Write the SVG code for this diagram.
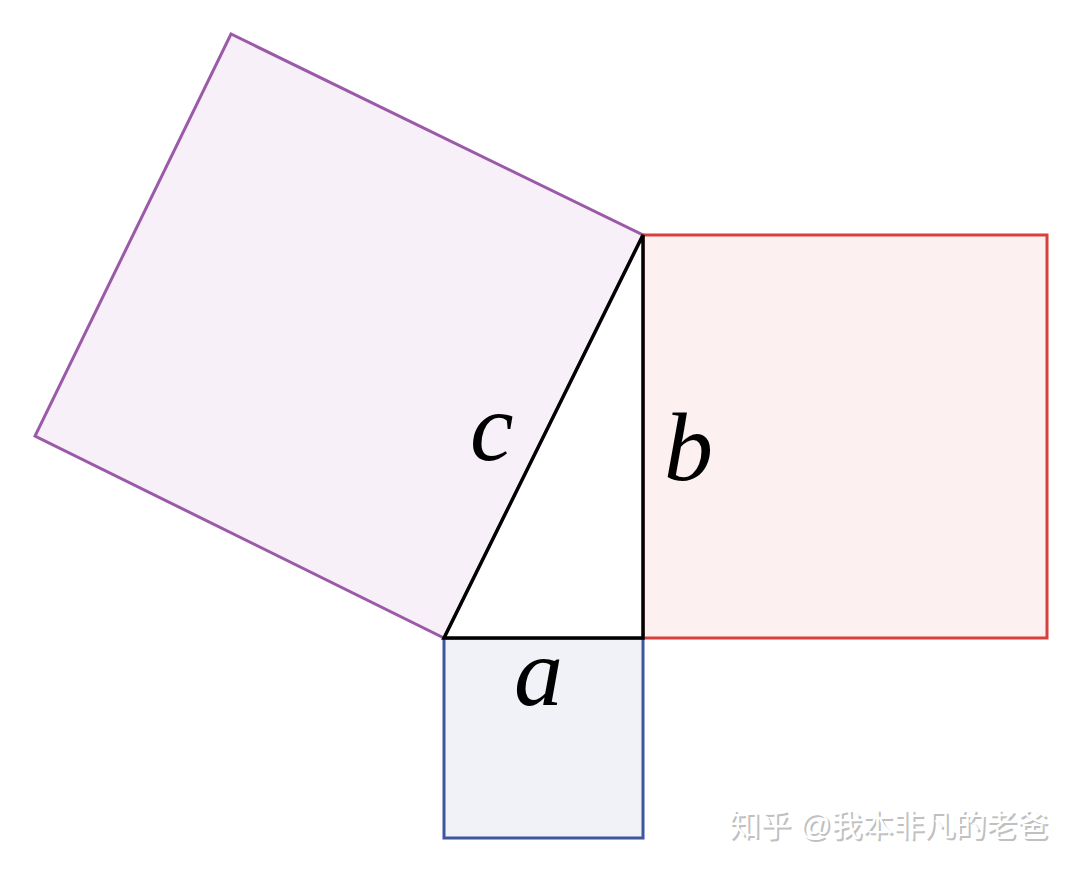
<svg xmlns="http://www.w3.org/2000/svg" width="1080" height="872" viewBox="0 0 1080 872">
<style>
.sq{stroke-width:3;stroke-linejoin:miter}
.lbl{font-family:"Liberation Serif",serif;font-style:italic;font-size:98px;fill:#000}
.wm{font-family:"Liberation Sans","Noto Sans CJK SC",sans-serif;font-size:31px}
</style>
<rect width="1080" height="872" fill="#ffffff"/>
<g id="square-c"><polygon class="sq" points="444,638 643,235 231,34 35,436" fill="#f8f0f8" stroke="#9b5aa8"/></g>
<g id="square-b"><rect class="sq" x="643" y="235" width="404" height="403" fill="#fdf0f0" stroke="#d8403d"/></g>
<g id="square-a"><rect class="sq" x="444" y="638" width="199" height="200" fill="#f1f2f8" stroke="#3f55a0"/></g>
<g id="triangle"><polygon points="444,638 643,638 643,235" fill="#ffffff" stroke="#000" stroke-width="3.5" stroke-linejoin="miter"/></g>
<g id="labels">
<text class="lbl" x="470" y="460">c</text>
<text class="lbl" x="664" y="480">b</text>
<text class="lbl" x="514" y="705">a</text>
</g>
<g id="watermark">
<text class="wm" x="731" y="838" fill="#c0c0c0">知乎 @我本非凡的老爸</text>
<text class="wm" x="729" y="836" fill="#ffffff">知乎 @我本非凡的老爸</text>
</g>
</svg>
